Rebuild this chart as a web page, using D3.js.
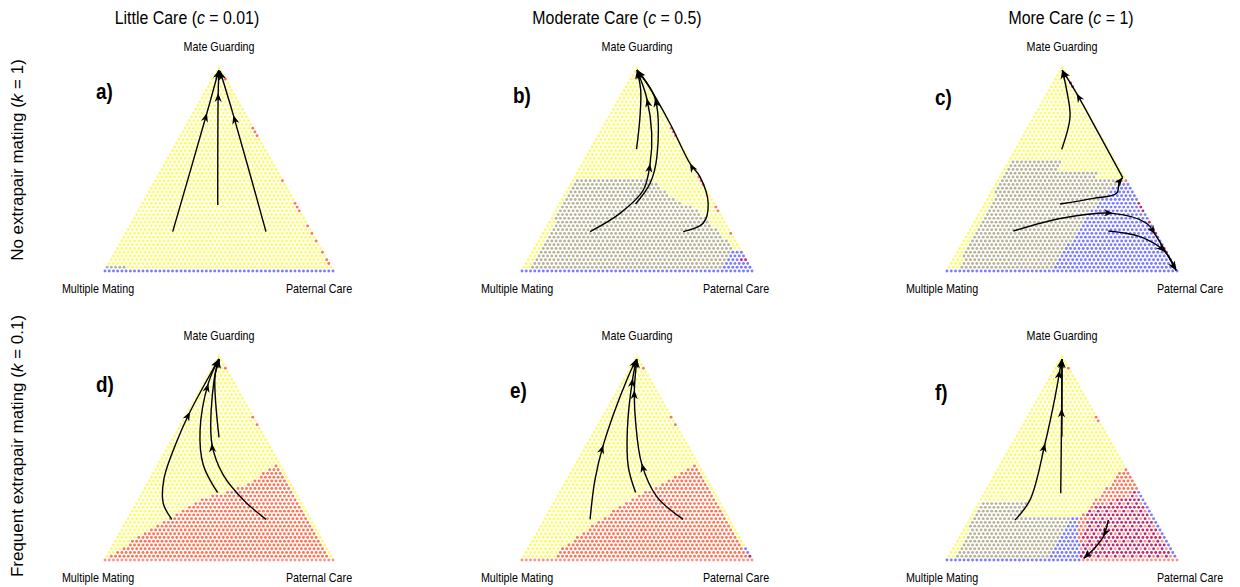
<!DOCTYPE html>
<html><head><meta charset="utf-8">
<script src="https://cdn.jsdelivr.net/npm/d3@7"></script>
<style>body{margin:0;background:#fff}svg{display:block}text{font-family:"Liberation Sans",Arial,sans-serif;fill:#000}</style>
</head><body><svg id="chart" width="1240" height="587"></svg>
<script>
// ---------------- data ----------------
const N = 54; // grid divisions of each ternary simplex
const colNames = ["Little Care", "Moderate Care", "More Care"];
const cValues = ["0.01", "0.5", "1"];
const rowNames = ["No extrapair mating", "Frequent extrapair mating"];
const kValues = ["1", "0.1"];
const vertexNames = ["Mate Guarding", "Multiple Mating", "Paternal Care"];
const panelLetters = ["a)", "b)", "c)", "d)", "e)", "f)"];
const strategyKeys = ["Y", "G", "B", "R", "M", "X", "S"];
const strategyColors = ["#fbfb6c", "#b7b398", "#7b7bff", "#ff7554", "#c02a6c", "#c02a6c", "#ff9088"];

// regions: [strategy, polygon of [paternal care, mate guarding] proportions]
const regionsA = [
  ["B", [[-0.05,-0.01],[1.05,-0.01],[1.05,0.009],[-0.05,0.009]]],
  ["G", [[-0.01,0.01],[0.083,0.01],[0.083,0.028],[-0.01,0.028]]]
];
const edgeA = [["R", [0.944,0.703,0.681,0.659,0.44,0.341,0.317,0.296,0.218,0.194,0.177,0.156,0.095,0.058,0.038]]];
const freeA = [];

const regionsB = [
  ["B", [[-0.05,-0.01],[1.05,-0.01],[1.05,0.009],[-0.05,0.009]]],
  ["G", [[0.035,0.01],[0.005,0.445],[0.345,0.445],[0.495,0.35],[0.63,0.29],[0.855,0.12],[0.9,0.075],[0.98,0.01]]],
  ["B", [[0.855,0.01],[0.86,0.102],[1.05,0.102],[1.05,0.01]]]
];
const edgeB = [["R", [0.70,0.68,0.66,0.458,0.438,0.419,0.32,0.296,0.182]]];
const freeB = [["M",0.943,0.054],["M",0.925,0.056]];

const regionsC = [
  ["B", [[-0.05,-0.01],[1.05,-0.01],[1.05,0.009],[-0.05,0.009]]],
  ["G", [[0.04,0.01],[0.008,0.55],[0.23,0.55],[0.23,0.49],[0.41,0.49],[0.41,0.458],[0.54,0.458],[0.54,0.38],[0.48,0.3],[0.47,0.2],[0.46,0.1],[0.45,0.01]]],
  ["B", [[0.45,0.005],[0.46,0.1],[0.47,0.2],[0.478,0.3],[0.5,0.36],[0.52,0.43],[0.6,0.43],[1.05,0.005]]]
];
const edgeC = [["M", [0.965,0.93,0.9,0.34,0.317,0.30,0.236,0.21,0.187,0.103,0.089]], ["R", [0.44]]];
const freeC = [];

const regionsD = [
  ["S", [[-0.05,-0.01],[1.05,-0.01],[1.05,0.009],[-0.05,0.009]]],
  ["R", [[0.005,0.01],[0.08,0.1],[0.17,0.197],[0.27,0.296],[0.435,0.37],[0.518,0.472],[0.98,0.01]]]
];
const edgeD = [["R", [0.95,0.706,0.665]]];
const freeD = [];

const regionsE = [
  ["S", [[-0.05,-0.01],[1.05,-0.01],[1.05,0.009],[-0.05,0.009]]],
  ["R", [[0.13,0.008],[0.135,0.04],[0.24,0.197],[0.322,0.296],[0.446,0.394],[0.52,0.47],[0.982,0.008]]]
];
const edgeE = [["R", [0.952,0.706,0.665]]];
const freeE = [["B",0.948,0.058],["B",0.97,0.04],["M",0.98,0.0197]];

const regionsF = [
  ["B", [[-0.05,-0.01],[0.575,-0.01],[0.575,0.009],[-0.05,0.009]]],
  ["S", [[0.575,-0.01],[1.05,-0.01],[1.05,0.009],[0.575,0.009]]],
  ["G", [[0.035,0.01],[0.005,0.282],[0.22,0.282],[0.22,0.215],[0.44,0.215],[0.44,0.01]]],
  ["B", [[0.44,0.01],[0.44,0.215],[0.48,0.215],[0.57,0.01]]],
  ["R", [[0.548,0.47],[0.473,0.2],[0.57,0.01],[1.05,0.01],[0.6,0.47]]],
  ["X", [[0.49,0.245],[0.667,0.345],[1.05,0.01],[0.568,0.01],[0.52,0.15]]],
  ["B", [[0.655,0.34],[1.2,0.34],[1.2,0.01],[0.985,0.01]]]
];
const edgeF = [["R", [0.95,0.706,0.68]]];
const freeF = [];

// trajectories: points as [paternal care, mate guarding]; arrows = indices of mid-arrowheads
const trajA = [
  {pts: [[0.200,0.194],[0.058,0.778],[0.004,0.99]], arrows: [1]},
  {pts: [[0.332,0.325],[0.058,0.877],[0.005,0.99]], arrows: [1]},
  {pts: [[0.609,0.194],[0.179,0.768],[0.012,0.985]], arrows: [1]}
];
const trajB = [
  {pts: [[0.198,0.6],[0.133,0.76],[0.07,0.892],[0.005,0.99]], arrows: []},
  {pts: [[0.199,0.194],[0.284,0.284],[0.328,0.399],[0.292,0.53],[0.225,0.678],[0.117,0.851],[0.005,0.99]], arrows: [3,5]},
  {pts: [[0.329,0.33],[0.341,0.432],[0.305,0.563],[0.153,0.851],[0.005,0.99]], arrows: [3]},
  {pts: [[0.604,0.194],[0.67,0.235],[0.643,0.333],[0.541,0.465],[0.465,0.53],[0.279,0.728],[0.08,0.925],[0.005,0.99]], arrows: [4]}
];
const trajC = [
  {pts: [[0.199,0.6],[0.155,0.76],[0.074,0.892],[0.006,0.99]], arrows: []},
  {pts: [[0.326,0.33],[0.457,0.358],[0.546,0.383],[0.529,0.44],[0.534,0.46]], arrows: []},
  {pts: [[0.534,0.46],[0.33,0.668],[0.126,0.875],[0.006,0.99]], arrows: [2]},
  {pts: [[0.19,0.197],[0.374,0.261],[0.58,0.284],[0.75,0.235],[0.814,0.181],[0.995,0.003]], arrows: [2,4]},
  {pts: [[0.603,0.197],[0.755,0.169],[0.9,0.095],[0.995,0.003]], arrows: [2]}
];
const trajD = [
  {pts: [[0.193,0.2],[0.116,0.279],[0.058,0.402],[0.022,0.59],[0.008,0.73],[0.004,0.99]], arrows: [4]},
  {pts: [[0.328,0.332],[0.197,0.468],[0.097,0.64],[0.018,0.87],[0.004,0.99]], arrows: [3]},
  {pts: [[0.606,0.2],[0.459,0.296],[0.309,0.419],[0.181,0.575],[0.035,0.887],[0.006,0.99]], arrows: [3]},
  {pts: [[0.198,0.604],[0.031,0.903],[0.006,0.99]], arrows: []}
];
const trajE = [
  {pts: [[0.196,0.2],[0.12,0.394],[0.07,0.567],[0.012,0.887],[0.003,0.99]], arrows: [2]},
  {pts: [[0.328,0.332],[0.232,0.46],[0.138,0.64],[0.034,0.895],[0.004,0.99]], arrows: [3]},
  {pts: [[0.601,0.2],[0.43,0.312],[0.282,0.476],[0.158,0.673],[0.07,0.837],[0.005,0.99]], arrows: [2,4]}
];
const trajF = [
  {pts: [[0.197,0.197],[0.213,0.296],[0.139,0.575],[0.068,0.804],[0.023,0.936],[0.004,0.99]], arrows: [2,4]},
  {pts: [[0.33,0.329],[0.125,0.747],[0.005,0.99]], arrows: [1]},
  {pts: [[0.196,0.607],[0.005,0.99]], arrows: []},
  {pts: [[0.603,0.197],[0.622,0.115],[0.613,0.059],[0.59,0.008]], arrows: [1]}
];

// ---------------- layout ----------------
const colLeft = [105, 522, 947], colWidth = [228, 230, 230];
const rowBase = [271, 560], triH = 203;
const titleX = [187, 617, 1071];
const mmLabelX = [98, 517, 942], pcLabelX = [319, 736, 1190];
const rowLabelY = [160, 446];
const letterPos = [[96,99],[513,103],[935,105],[96,392],[510,398],[935,400]];
const SX = 0.86;

const panels = [
  {regions: regionsA, edge: edgeA, free: freeA, traj: trajA},
  {regions: regionsB, edge: edgeB, free: freeB, traj: trajB},
  {regions: regionsC, edge: edgeC, free: freeC, traj: trajC},
  {regions: regionsD, edge: edgeD, free: freeD, traj: trajD},
  {regions: regionsE, edge: edgeE, free: freeE, traj: trajE},
  {regions: regionsF, edge: edgeF, free: freeF, traj: trajF}
];

const colorOf = Object.fromEntries(strategyKeys.map((k, i) => [k, strategyColors[i]]));
const svg = d3.select("#chart");
svg.append("rect").attr("width", 1240).attr("height", 587).attr("fill", "#fff");

// column titles
colNames.forEach((name, i) => {
  const t = svg.append("text").attr("text-anchor", "middle").attr("font-size", 18.5)
    .attr("transform", `translate(${titleX[i]},24) scale(${SX},1)`);
  t.append("tspan").text(name + " (");
  t.append("tspan").attr("font-style", "italic").text("c");
  t.append("tspan").text(" = " + cValues[i] + ")");
});
// row titles
rowNames.forEach((name, i) => {
  const t = svg.append("text").attr("text-anchor", "middle").attr("font-size", 17)
    .attr("transform", `translate(23,${rowLabelY[i]}) rotate(-90)`);
  t.append("tspan").text(name + " (");
  t.append("tspan").attr("font-style", "italic").text("k");
  t.append("tspan").text(" = " + kValues[i] + ")");
});

panels.forEach((p, pi) => {
  const col = pi % 3, row = Math.floor(pi / 3);
  const xs = d3.scaleLinear().domain([0, 1]).range([colLeft[col], colLeft[col] + colWidth[col]]);
  const ys = d3.scaleLinear().domain([0, 1]).range([rowBase[row], rowBase[row] - triH]);
  const X = d => xs(d[0] + d[1] / 2), Y = d => ys(d[1]);
  const g = svg.append("g");

  // grid of simulated starting points
  const grid = [];
  const cell = {};
  for (let r = 0; r <= N; r++) for (let j = 0; j <= N - r; j++) {
    const pt = [j / N, r / N];
    let key = "Y";
    p.regions.forEach(([k, poly]) => { if (d3.polygonContains(poly, pt)) key = k; });
    const o = {r, j, pt, key};
    grid.push(o); cell[r + "_" + j] = o;
  }
  p.edge.forEach(([k, mgs]) => mgs.forEach(mg => {
    const r = Math.round(mg * N); const c = cell[r + "_" + (N - r)]; if (c) c.key = k;
  }));
  p.free.forEach(([k, pc, mg]) => {
    const r = Math.round(mg * N); const j = Math.min(Math.round(pc * N), N - r);
    const c = cell[r + "_" + j]; if (c) c.key = k;
  });
  g.selectAll("circle").data(grid).join("circle")
    .attr("cx", d => X(d.pt)).attr("cy", d => Y(d.pt)).attr("r", 1.45)
    .attr("fill", d => d.key === "X" ? ((d.r % 2 === 1 && d.j % 2 === 0) ? colorOf.S : colorOf.M) : colorOf[d.key]);

  // trajectories
  const line = d3.line().x(X).y(Y).curve(d3.curveCatmullRom.alpha(0.5));
  const head = "M0,0L-9,-3.6L-6.3,0L-9,3.6Z";
  p.traj.forEach(t => {
    g.append("path").attr("d", line(t.pts)).attr("fill", "none").attr("stroke", "#000").attr("stroke-width", 1.4);
    const n = t.pts.length;
    const heads = t.arrows.map(i => [i, t.pts[i - 1], t.pts[i + 1]]).concat([[n - 1, t.pts[n - 2], t.pts[n - 1]]]);
    heads.forEach(([i, a, b]) => {
      const ang = Math.atan2(Y(b) - Y(a), X(b) - X(a)) * 180 / Math.PI;
      g.append("path").attr("d", head).attr("fill", "#000")
        .attr("transform", `translate(${X(t.pts[i])},${Y(t.pts[i])}) rotate(${ang})`);
    });
  });

  // vertex labels
  g.append("text").attr("text-anchor", "middle").attr("font-size", 12.5)
    .attr("transform", `translate(${X([0, 1])},${Y([0, 1]) - 17}) scale(${SX},1)`).text(vertexNames[0]);
  g.append("text").attr("text-anchor", "middle").attr("font-size", 12.5)
    .attr("transform", `translate(${mmLabelX[col]},${rowBase[row] + 22}) scale(${SX},1)`).text(vertexNames[1]);
  g.append("text").attr("text-anchor", "middle").attr("font-size", 12.5)
    .attr("transform", `translate(${pcLabelX[col]},${rowBase[row] + 22}) scale(${SX},1)`).text(vertexNames[2]);
  // panel letter
  g.append("text").attr("font-size", 22).attr("font-weight", "bold")
    .attr("transform", `translate(${letterPos[pi][0]},${letterPos[pi][1]}) scale(${SX},1)`).text(panelLetters[pi]);
});
</script></body></html>
